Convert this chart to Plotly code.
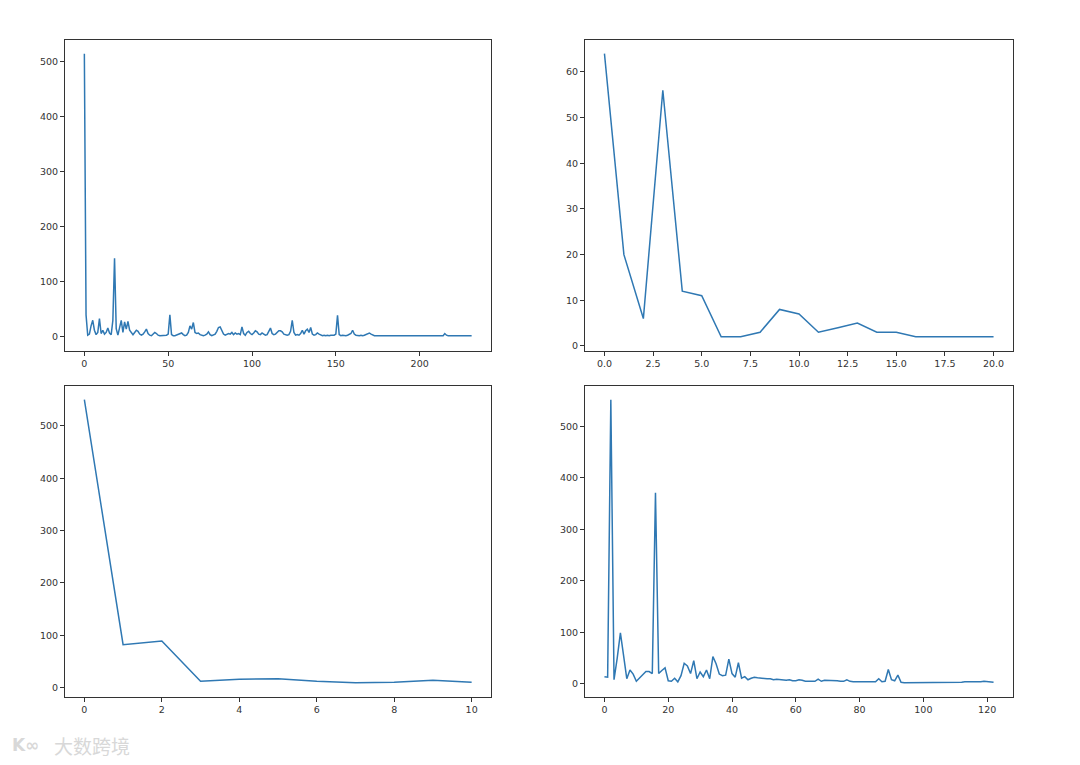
import plotly.graph_objects as go

# ---- data ----
series_a = [515, 40, 3, 5, 20, 30, 12, 4, 8, 33, 6, 12, 5, 8, 16, 7, 4, 30, 143, 15,
            3, 18, 30, 8, 27, 14, 28, 12, 8, 4, 8, 12, 10, 5, 3, 5, 9, 14, 6, 3,
            2, 5, 8, 6, 3, 2, 2, 3, 2, 3, 5, 40, 4, 2, 2, 3, 4, 6, 7, 4,
            2, 3, 8, 20, 14, 26, 8, 6, 7, 4, 3, 2, 3, 5, 9, 4, 2, 3, 5, 10,
            17, 18, 12, 5, 3, 4, 6, 5, 8, 4, 7, 5, 6, 4, 18, 6, 3, 8, 10, 6,
            4, 7, 11, 9, 5, 4, 7, 5, 3, 4, 9, 16, 6, 4, 5, 8, 11, 11, 9, 5,
            4, 3, 4, 10, 30, 8, 3, 4, 3, 6, 12, 5, 11, 14, 8, 17, 5, 3, 4, 7,
            5, 3, 2, 3, 2, 3, 2, 3, 3, 3, 5, 39, 4, 2, 3, 2, 2, 3, 4, 6,
            12, 5, 3, 2, 2, 3, 2, 3, 4, 6, 7, 5, 3, 2, 2, 2, 2, 2, 2, 2,
            3, 2, 2, 2, 2, 2, 3, 2, 2, 2, 2, 2, 2, 2, 2, 3, 2, 2, 2, 2,
            2, 2, 2, 2, 2, 2, 2, 2, 3, 2, 2, 2, 2, 2, 2, 6, 3, 2, 2, 2,
            2, 2, 2, 2, 2, 2, 2, 2, 2, 2, 2, 2]
series_b = [64, 20, 6, 56, 12, 11, 2, 2, 3, 8, 7, 3, 4, 5, 3, 3, 2, 2, 2, 2, 2]
series_c = [550, 82, 89, 12, 16, 17, 12, 9, 10, 14, 10]
series_d = [14, 13, 552, 8, 50, 99, 55, 10, 27, 19, 5, 11, 19, 24, 24, 20, 371, 20, 26, 31,
            6, 5, 11, 4, 16, 40, 35, 20, 45, 10, 23, 14, 27, 10, 53, 39, 19, 16, 17, 48,
            20, 13, 41, 11, 14, 8, 11, 13, 12, 11, 11, 10, 10, 8, 9, 8, 8, 7, 8, 6,
            6, 8, 7, 5, 5, 5, 5, 9, 5, 7, 7, 6, 6, 6, 5, 5, 8, 5, 4, 4,
            4, 4, 4, 3, 4, 4, 10, 4, 5, 28, 8, 6, 17, 3, 2, 2, 3, 3, 2, 3,
            3, 3, 2, 3, 3, 3, 2, 3, 3, 3, 2, 2, 3, 4, 4, 3, 4, 4, 4, 5,
            4, 4, 3]

ticks_a_x = [0, 50, 100, 150, 200]
ticks_b_x = [0, 2.5, 5, 7.5, 10, 12.5, 15, 17.5, 20]
ticks_c_x = [0, 2, 4, 6, 8, 10]
ticks_d_x = [0, 20, 40, 60, 80, 100, 120]
ticks_y_big = [0, 100, 200, 300, 400, 500]
ticks_b_y = [0, 10, 20, 30, 40, 50, 60]

watermark = "大数跨境"

W, H = 1080, 765
LINE = "#2f78b3"
AX = "#333333"

fig = go.Figure()

def add(series, xa, ya):
    fig.add_trace(go.Scatter(x=list(range(len(series))), y=series, mode="lines",
                             line=dict(color=LINE, width=1.5), xaxis=xa, yaxis=ya,
                             showlegend=False, hoverinfo="x+y"))

add(series_a, "x", "y")
add(series_b, "x2", "y2")
add(series_c, "x3", "y3")
add(series_d, "x4", "y4")

def px_dom(a, b, total):
    return [a / total, b / total]

def py_dom(top, bottom):
    return [1 - bottom / H, 1 - top / H]

col1 = px_dom(65, 491, W)
col2 = px_dom(585, 1013, W)
row1 = py_dom(39.5, 351)
row2 = py_dom(385.5, 697)

common = dict(showgrid=False, zeroline=False, showline=True, linecolor=AX, linewidth=1,
              mirror=True, ticks="outside", ticklen=4, tickwidth=0.8, tickcolor=AX,
              tickfont=dict(family="DejaVu Sans", size=9.5, color="#333333"))

def n(series):
    return len(series) - 1

def yr(series):
    lo, hi = min(series), max(series)
    m = (hi - lo) * 0.05
    return [lo - m, hi + m]

def xr(series):
    m = n(series) * 0.05
    return [-m, n(series) + m]

fig.update_layout(
    width=W, height=H,
    margin=dict(l=0, r=0, t=0, b=0),
    paper_bgcolor="white", plot_bgcolor="white",
    xaxis=dict(domain=col1, anchor="y", range=xr(series_a), tickvals=ticks_a_x, **common),
    yaxis=dict(domain=row1, anchor="x", range=yr([0] + series_a), tickvals=ticks_y_big, **common),
    xaxis2=dict(domain=col2, anchor="y2", range=xr(series_b), tickvals=ticks_b_x,
                ticktext=[f"{v:.1f}" for v in ticks_b_x], **common),
    yaxis2=dict(domain=row1, anchor="x2", range=yr(series_b), tickvals=ticks_b_y, **common),
    xaxis3=dict(domain=col1, anchor="y3", range=xr(series_c), tickvals=ticks_c_x, **common),
    yaxis3=dict(domain=row2, anchor="x3", range=yr(series_c), tickvals=ticks_y_big, **common),
    xaxis4=dict(domain=col2, anchor="y4", range=xr(series_d), tickvals=ticks_d_x, **common),
    yaxis4=dict(domain=row2, anchor="x4", range=yr(series_d), tickvals=ticks_y_big, **common),
)

# watermark
fig.add_annotation(x=52 / W, y=1 - 745 / H, xref="paper", yref="paper", xanchor="left",
                   yanchor="middle", showarrow=False, text=watermark,
                   font=dict(family="Noto Sans CJK SC", size=19, color="#d8d8d8"))
fig.add_annotation(x=10 / W, y=1 - 745 / H, xref="paper", yref="paper", xanchor="left",
                   yanchor="middle", showarrow=False, text="<b>K∞</b>",
                   font=dict(family="DejaVu Sans", size=17, color="#d8d8d8"))

fig.write_html("out.html", config={"displayModeBar": False},
               post_script="document.body.style.margin='0';document.body.style.overflow='hidden';")
